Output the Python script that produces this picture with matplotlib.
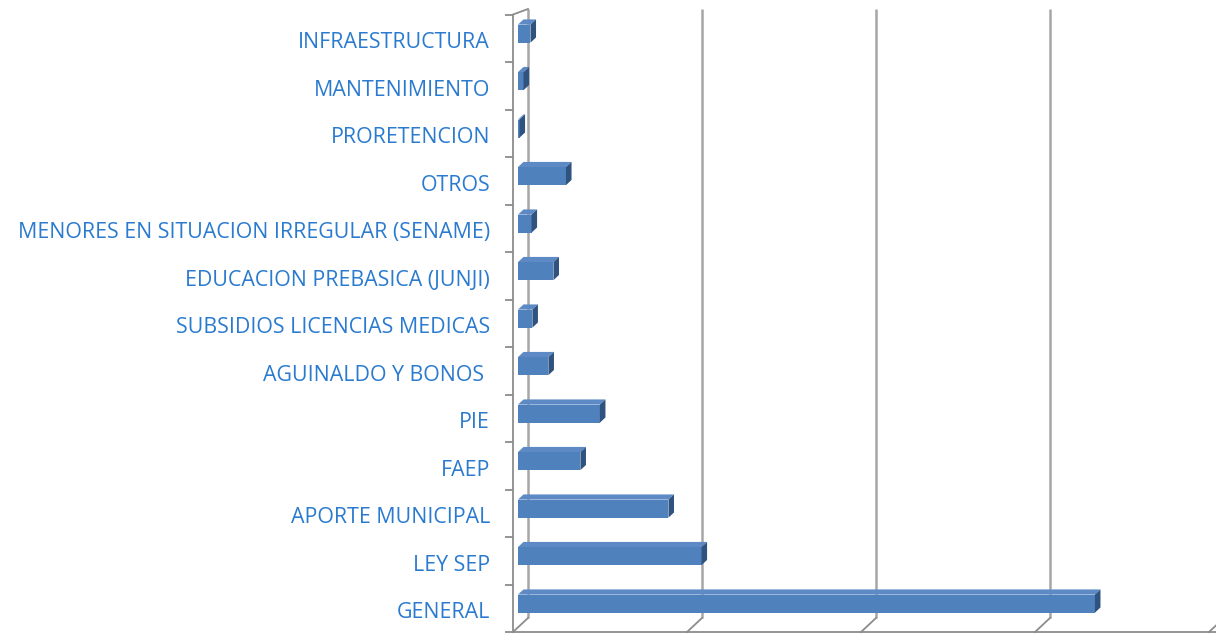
import numpy as np
import matplotlib.pyplot as plt
from matplotlib.patches import Polygon, Rectangle

# funding sources, listed bottom to top
categories = [
    "GENERAL", "LEY SEP", "APORTE MUNICIPAL", "FAEP", "PIE",
    "AGUINALDO Y BONOS ", "SUBSIDIOS LICENCIAS MEDICAS",
    "EDUCACION PREBASICA (JUNJI)", "MENORES EN SITUACION IRREGULAR (SENAME)",
    "OTROS", "PRORETENCION", "MANTENIMIENTO", "INFRAESTRUCTURA",
]
values = [3316, 1055, 865, 359, 471, 175, 83, 204, 78, 276, 9, 32, 72]
grid_ticks = [0, 1000, 2000, 3000, 4000]

plt.rcParams["font.family"] = ["Open Sans", "DejaVu Sans"]

fig = plt.figure(figsize=(12.16, 6.36), dpi=100)
ax = fig.add_axes([513 / 1216, 4 / 636, 703 / 1216, 617.5 / 636])
ax.set_xlim(0, 703 / 0.174)
ax.set_ylim(-0.5, len(categories) - 0.5)

# pixel -> data conversion for the 3D depth offset
p0 = ax.transData.transform((0, 0))
p1 = ax.transData.transform((1, 1))
px_x = 1.0 / (p1[0] - p0[0])
px_y = 1.0 / (p1[1] - p0[1])
DX, DY = 15 * px_x, 14 * px_y
f0, f1 = 0.33, 0.70
h = 0.38
y_top = len(categories) - 0.5
wall_top = y_top + 5.5 * px_y

grid_col = "#A6A6A6"
axis_col = "#8C8C8C"

# back wall gridlines and floor diagonals
for g in grid_ticks:
    ax.plot([g + DX, g + DX], [-0.5 + DY, wall_top], color=grid_col, lw=1.8,
            zorder=1, clip_on=False, solid_capstyle="butt")
    ax.plot([g, g + DX], [-0.5, -0.5 + DY], color=axis_col, lw=1.3,
            zorder=1, clip_on=False)
ax.plot([0, DX], [y_top, wall_top], color=axis_col, lw=1.3, zorder=1, clip_on=False)

# 3D bars: front, top and side faces
front_col, top_col, side_col = "#4F81BD", "#5D89C4", "#30527F"
for i, v in enumerate(values):
    x0, y0 = f0 * DX, i - h / 2 + f0 * DY
    ax.add_patch(Rectangle((x0, y0), v, h, facecolor=front_col,
                           edgecolor="none", zorder=3, clip_on=False))
    top = [(x0, y0 + h), (x0 + v, y0 + h),
           (f1 * DX + v, i + h / 2 + f1 * DY), (f1 * DX, i + h / 2 + f1 * DY)]
    ax.add_patch(Polygon(top, closed=True, facecolor=top_col,
                         edgecolor="none", zorder=3, clip_on=False))
    side = [(x0 + v, y0), (x0 + v, y0 + h),
            (f1 * DX + v, i + h / 2 + f1 * DY), (f1 * DX + v, i - h / 2 + f1 * DY)]
    ax.add_patch(Polygon(side, closed=True, facecolor=side_col,
                         edgecolor="none", zorder=3, clip_on=False))

# front axes
for s in ["top", "right"]:
    ax.spines[s].set_visible(False)
for s in ["left", "bottom"]:
    ax.spines[s].set_color(axis_col)
    ax.spines[s].set_linewidth(1.3)

ax.set_xticks([])
ax.set_yticks(np.arange(len(categories)) - 0.04)
ax.set_yticklabels(categories, fontsize=15.4, color="#2A7BCF")
ax.set_yticks(np.arange(-0.5, len(categories), 1), minor=True)
ax.tick_params(axis="y", which="major", length=0, pad=16.5)
ax.tick_params(axis="y", which="minor", length=5.8, width=1.3, color=axis_col)
ax.set_facecolor("none")

fig.savefig("out.png", dpi=100)
